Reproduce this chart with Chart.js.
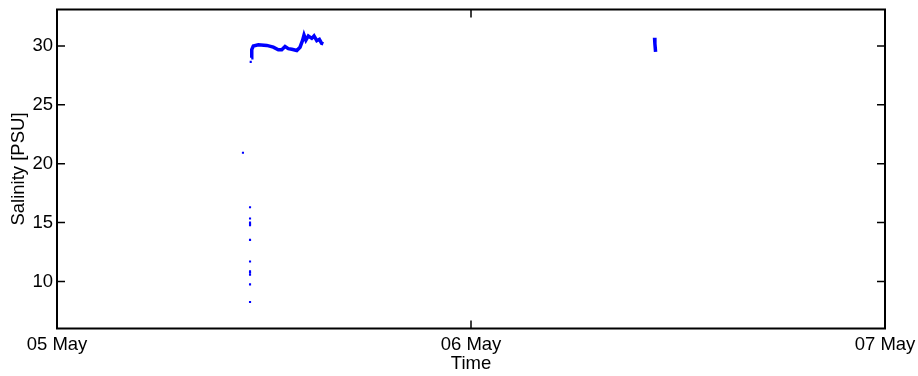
<!DOCTYPE html>
<html>
<head>
<meta charset="utf-8">
<style>
  html, body { margin: 0; padding: 0; background: #ffffff; }
  #wrap { width: 918px; height: 376px; }
</style>
<script src="https://cdn.jsdelivr.net/npm/chart.js@4/dist/chart.umd.min.js"></script>
</head>
<body>
<div id="wrap"><canvas id="c" width="918" height="376"></canvas></div>
<script>
// Hours since 05 May 00:00
const xTickValues = [0, 24, 48];
const xTickLabels = ['05 May', '06 May', '07 May'];
const yTickValues = [10, 15, 20, 25, 30];

// Continuous record (first deployment)
const seg1Hours = [11.26, 11.29, 11.38, 11.67, 12.16, 12.54, 12.83, 13.03, 13.22, 13.41, 13.61, 13.90, 14.09, 14.24, 14.32, 14.43, 14.57, 14.77, 14.90, 15.06, 15.21, 15.34, 15.44];
const seg1Sal   = [29.0, 29.7, 30.0, 30.1, 30.05, 29.9, 29.68, 29.68, 29.95, 29.77, 29.72, 29.62, 29.9, 30.5, 30.93, 30.5, 30.85, 30.65, 30.85, 30.45, 30.57, 30.23, 30.17];

// Short record on 06 May
const seg2Hours = [34.64, 34.66, 34.70];
const seg2Sal   = [30.7, 30.2, 29.5];

// Isolated samples
const dotHours = [10.78, 11.19, 11.19, 11.19, 11.19, 11.19, 11.19, 11.19, 11.19, 11.19, 11.19, 11.19, 11.19, 11.23];
const dotSal   = [20.93, 16.30, 15.34, 15.0, 14.89, 14.77, 13.53, 11.69, 10.85, 10.74, 10.57, 9.75, 8.25, 28.65];

const toXY = (xs, ys) => xs.map((x, i) => ({ x: x, y: ys[i] }));

const FONT = { family: '"Liberation Sans", Arial, sans-serif', size: 18.5 };
const BLUE = '#0000ff';

const framePlugin = {
  id: 'frame',
  afterDraw(chart) {
    const ctx = chart.ctx;
    const a = chart.chartArea;
    const xs = chart.scales.x, ys = chart.scales.y;
    const tl = 8;
    ctx.save();
    ctx.strokeStyle = '#000000';
    ctx.lineWidth = 1.5;
    xTickValues.forEach(v => {
      const px = xs.getPixelForValue(v);
      ctx.beginPath();
      ctx.moveTo(px, a.bottom); ctx.lineTo(px, a.bottom - tl);
      ctx.moveTo(px, a.top); ctx.lineTo(px, a.top + tl);
      ctx.stroke();
    });
    yTickValues.forEach(v => {
      const py = ys.getPixelForValue(v);
      ctx.beginPath();
      ctx.moveTo(a.left, py); ctx.lineTo(a.left + tl, py);
      ctx.moveTo(a.right, py); ctx.lineTo(a.right - tl, py);
      ctx.stroke();
    });
    ctx.lineWidth = 2;
    ctx.strokeRect(a.left, a.top, a.right - a.left, a.bottom - a.top);
    ctx.restore();
  }
};

new Chart(document.getElementById('c'), {
  type: 'scatter',
  data: {
    datasets: [
      {
        data: toXY(seg1Hours, seg1Sal),
        showLine: true,
        borderColor: BLUE,
        borderWidth: 3.5,
        pointRadius: 0,
        tension: 0
      },
      {
        data: toXY(seg2Hours, seg2Sal),
        showLine: true,
        borderColor: BLUE,
        borderWidth: 3.5,
        pointRadius: 0,
        tension: 0
      },
      {
        data: toXY(dotHours, dotSal),
        showLine: false,
        pointRadius: 1.5,
        pointStyle: 'rect',
        backgroundColor: BLUE,
        borderColor: BLUE,
        borderWidth: 0
      }
    ]
  },
  options: {
    responsive: false,
    animation: false,
    devicePixelRatio: 1,
    layout: { padding: { left: 0, right: 33, top: 9.5, bottom: 0 } },
    plugins: { legend: { display: false }, tooltip: { enabled: false } },
    scales: {
      x: {
        type: 'linear',
        min: 0,
        max: 48,
        afterBuildTicks(scale) { scale.ticks = xTickValues.map(v => ({ value: v })); },
        afterFit(scale) { scale.height = 47.5; scale.paddingLeft = 0; scale.paddingRight = 0; },
        grid: { display: false, drawTicks: false },
        border: { display: false },
        ticks: {
          color: '#000000',
          font: FONT,
          padding: 5,
          maxRotation: 0,
          callback: (v) => xTickLabels[xTickValues.indexOf(v)]
        },
        title: {
          display: true,
          text: 'Time',
          color: '#000000',
          font: FONT,
          padding: { top: 0, bottom: 1 }
        }
      },
      y: {
        type: 'linear',
        min: 6,
        max: 33.1,
        afterBuildTicks(scale) { scale.ticks = yTickValues.map(v => ({ value: v })); },
        afterFit(scale) { scale.width = 57; scale.paddingTop = 0; scale.paddingBottom = 0; },
        grid: { display: false, drawTicks: false },
        border: { display: false },
        ticks: {
          color: '#000000',
          font: FONT,
          padding: 4,
          callback: (v) => String(v)
        },
        title: {
          display: true,
          text: 'Salinity [PSU]',
          color: '#000000',
          font: FONT,
          padding: { top: 8, bottom: 0 }
        }
      }
    }
  },
  plugins: [framePlugin]
});
</script>
</body>
</html>
